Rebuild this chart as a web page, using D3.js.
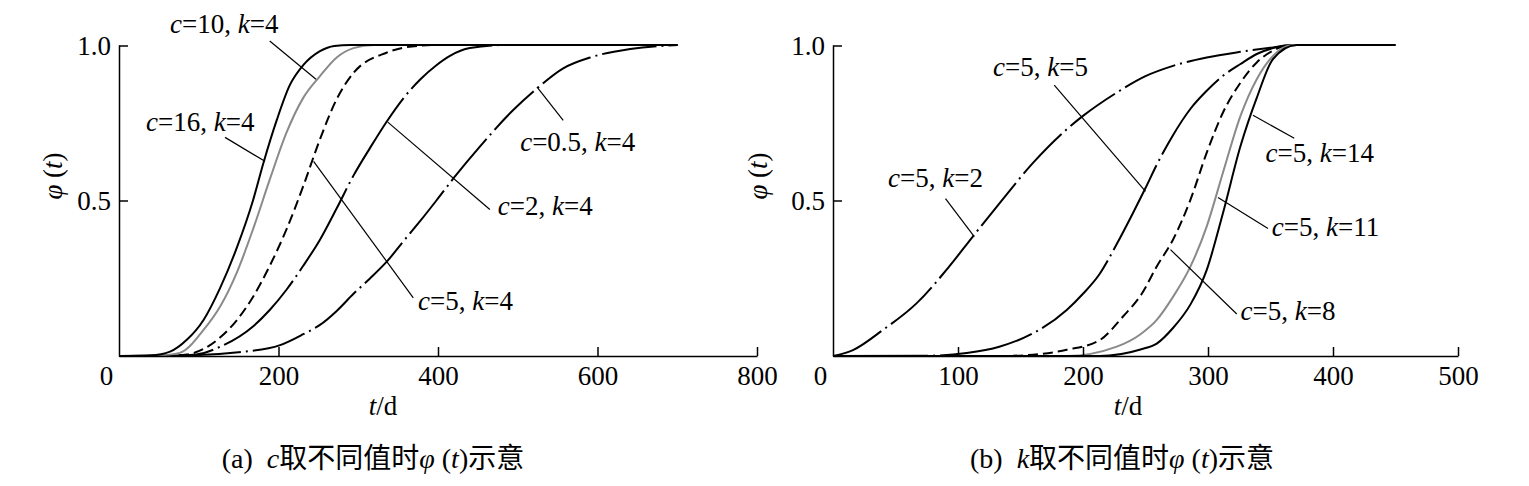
<!DOCTYPE html>
<html><head><meta charset="utf-8">
<script src="https://cdn.jsdelivr.net/npm/d3@7"></script>
<style>
body{margin:0;background:#fff;}
svg text, svg tspan{font-family:'Liberation Serif','Times New Roman','DejaVu Serif',serif;}
svg tspan.cjk{font-family:'Noto Sans CJK SC','Noto Sans CJK JP',sans-serif;}
</style></head><body>
<svg id="chart" width="1529" height="486"></svg>
<script>
// ---------- tick labels ----------
const leftXTicks = [0, 200, 400, 600, 800];
const rightXTicks = [0, 100, 200, 300, 400, 500];
const yTicks = [0.5, 1.0];

// ---------- panel (a): c varies, k = 4 ----------
const a_c16_t   = [0, 40, 64, 85, 106, 127, 148, 168, 181, 198, 214, 231, 252, 270, 290, 700];
const a_c16_phi = [0, 0.002, 0.014, 0.052, 0.116, 0.22, 0.35, 0.50, 0.62, 0.76, 0.87, 0.935, 0.98, 0.997, 1, 1];

const a_c10_t   = [0, 50, 76, 106, 127, 148, 168, 189, 210, 231, 252, 273, 294, 319, 700];
const a_c10_phi = [0, 0.002, 0.01, 0.084, 0.16, 0.27, 0.407, 0.567, 0.718, 0.83, 0.90, 0.96, 0.99, 1, 1];

const a_c5_t    = [0, 60, 85, 127, 148, 168, 189, 210, 231, 252, 273, 294, 336, 378, 400, 700];
const a_c5_phi  = [0, 0.001, 0.005, 0.06, 0.116, 0.19, 0.29, 0.407, 0.546, 0.697, 0.826, 0.91, 0.976, 0.998, 1, 1];

const a_c2_t    = [0, 60, 97, 127, 168, 189, 210, 231, 252, 273, 294, 315, 336, 357, 378, 398, 415, 440, 486, 700];
const a_c2_phi  = [0, 0.001, 0.005, 0.03, 0.095, 0.148, 0.213, 0.29, 0.374, 0.475, 0.58, 0.67, 0.755, 0.83, 0.89, 0.935, 0.965, 0.99, 1, 1];

const a_c05_t   = [0, 100, 150, 202, 231, 252, 273, 294, 315, 336, 357, 378, 398, 419, 453, 494, 524, 557, 591, 641, 701];
const a_c05_phi = [0, 0.003, 0.012, 0.035, 0.07, 0.10, 0.145, 0.20, 0.25, 0.304, 0.37, 0.435, 0.50, 0.57, 0.675, 0.79, 0.86, 0.925, 0.96, 0.987, 1];

// ---------- panel (b): k varies, c = 5 ----------
const b_k2_t    = [0, 16, 40, 67, 93, 112, 133, 160, 187, 200, 227, 250, 272, 299, 326, 352, 371, 450];
const b_k2_phi  = [0, 0.019, 0.084, 0.17, 0.288, 0.385, 0.49, 0.621, 0.729, 0.772, 0.847, 0.90, 0.933, 0.96, 0.978, 0.992, 1, 1];

const b_k5_t    = [0, 77, 107, 133, 160, 187, 200, 213, 227, 240, 250, 259, 272, 286, 299, 312, 326, 339, 352, 366, 450];
const b_k5_phi  = [0, 0.001, 0.01, 0.03, 0.073, 0.148, 0.20, 0.262, 0.36, 0.46, 0.54, 0.615, 0.71, 0.795, 0.853, 0.901, 0.939, 0.971, 0.99, 1, 1];

const b_k8_t    = [0, 133, 160, 187, 213, 232, 247, 259, 272, 286, 299, 312, 326, 339, 352, 366, 450];
const b_k8_phi  = [0, 0, 0.004, 0.02, 0.05, 0.127, 0.20, 0.288, 0.374, 0.503, 0.654, 0.783, 0.879, 0.944, 0.982, 1, 1];

const b_k11_t   = [0, 187, 227, 246, 259, 272, 286, 299, 312, 326, 339, 352, 368, 450];
const b_k11_phi = [0, 0, 0.03, 0.07, 0.116, 0.19, 0.288, 0.417, 0.59, 0.772, 0.89, 0.965, 1, 1];

const b_k14_t   = [0, 213, 246, 259, 272, 286, 299, 312, 326, 339, 352, 371, 450];
const b_k14_phi = [0, 0, 0.021, 0.04, 0.09, 0.166, 0.277, 0.46, 0.675, 0.83, 0.955, 1, 1];

// ---------- annotation labels ----------
const a_labels = [["10","4"],["16","4"],["5","4"],["2","4"],["0.5","4"]];
const b_labels = [["5","5"],["5","2"],["5","14"],["5","11"],["5","8"]];

// ---------- layout ----------
const FS = 27;
const svg = d3.select("#chart");
svg.append("rect").attr("width",1529).attr("height",486).attr("fill","#fff");

const y = d3.scaleLinear().domain([0, 1]).range([356, 45]);
const xa = d3.scaleLinear().domain([0, 800]).range([119, 757]);
const xb = d3.scaleLinear().domain([0, 500]).range([833, 1458]);

const styles = {
  black: {stroke:"#000", dash:null},
  gray:  {stroke:"#8a8a8a", dash:null},
  dashed:{stroke:"#000", dash:"10 5"},
  longDD:{stroke:"#000", dash:"95 5 2 5"},
  dd:    {stroke:"#000", dash:"55 5 2 5"}
};

const panelA = [
  {t:a_c05_t, p:a_c05_phi, s:"dd"},
  {t:a_c2_t,  p:a_c2_phi,  s:"longDD"},
  {t:a_c5_t,  p:a_c5_phi,  s:"dashed"},
  {t:a_c10_t, p:a_c10_phi, s:"gray"},
  {t:a_c16_t, p:a_c16_phi, s:"black"}
];
const panelB = [
  {t:b_k2_t,  p:b_k2_phi,  s:"dd"},
  {t:b_k5_t,  p:b_k5_phi,  s:"longDD"},
  {t:b_k8_t,  p:b_k8_phi,  s:"dashed"},
  {t:b_k11_t, p:b_k11_phi, s:"gray"},
  {t:b_k14_t, p:b_k14_phi, s:"black"}
];

// annotation placement (data units): text start, leader endpoints
const annA = [
  {tx:64,  ty:1.039, l:[189,1.013,247,0.890]},
  {tx:34,  ty:0.723, l:[133,0.703,183,0.626]},
  {tx:375, ty:0.148, l:[244,0.626,369,0.187]},
  {tx:475, ty:0.452, l:[337,0.752,465,0.471]},
  {tx:503, ty:0.658, l:[524,0.865,557,0.758]}
];
const annB = [
  {tx:128, ty:0.900, l:[177,0.871,250,0.529]},
  {tx:44,  ty:0.542, l:[90,0.506,113,0.384]},
  {tx:346, ty:0.623, l:[336,0.774,369,0.700]},
  {tx:351, ty:0.387, l:[308,0.510,348,0.410]},
  {tx:326, ty:0.116, l:[270,0.342,323,0.135]}
];

function drawPanel(x, xTicks, series, labels, anns, yLabX, tdX, capX, capLetter, capVar) {
  const g = svg.append("g");
  series.forEach(sr => {
    const pts = sr.t.map((t,i)=>[t, sr.p[i]]);
    const line = d3.line().x(d=>x(d[0])).y(d=>y(d[1])).curve(d3.curveMonotoneX);
    const st = styles[sr.s];
    g.append("path").attr("d", line(pts)).attr("fill","none")
      .attr("stroke", st.stroke).attr("stroke-width", 2)
      .attr("stroke-dasharray", st.dash).attr("stroke-linejoin","round");
  });
  const xAxis = d3.axisBottom(x).tickValues(xTicks).tickSize(-9).tickSizeOuter(0).tickPadding(10)
      .tickFormat(d3.format("d"));
  const gx = g.append("g").attr("transform", `translate(0,${y(0)})`).call(xAxis);
  gx.selectAll(".tick").filter(d=>d===0).select("line").remove();
  gx.selectAll(".tick").filter(d=>d===0).select("text").attr("x", -13);
  const yAxis = d3.axisLeft(y).tickValues(yTicks).tickSize(-9).tickSizeOuter(0).tickPadding(8)
      .tickFormat(d3.format(".1f"));
  const gy = g.append("g").attr("transform", `translate(${x(0)},0)`).call(yAxis);
  gy.selectAll(".tick").attr("transform", d => `translate(0,${d===1 ? 46 : 201})`);
  [gx, gy].forEach(a => {
    a.select(".domain").attr("stroke","#000").attr("stroke-width",1.5);
    a.selectAll(".tick line").attr("stroke","#000").attr("stroke-width",1.5);
    a.selectAll(".tick text").attr("fill","#000").attr("font-size",FS);
  });
  anns.forEach((a,i) => {
    g.append("line").attr("x1",x(a.l[0])).attr("y1",y(a.l[1]))
      .attr("x2",x(a.l[2])).attr("y2",y(a.l[3]))
      .attr("stroke","#000").attr("stroke-width",1.2);
    const tx = g.append("text").attr("x",x(a.tx)).attr("y",y(a.ty)).attr("font-size",FS);
    tx.append("tspan").attr("font-style","italic").text("c");
    tx.append("tspan").text("=" + labels[i][0] + ", ");
    tx.append("tspan").attr("font-style","italic").text("k");
    tx.append("tspan").text("=" + labels[i][1]);
  });
  const yl = g.append("text").attr("transform",`translate(${yLabX},176) rotate(-90)`)
    .attr("text-anchor","middle").attr("font-size",FS).style("white-space","pre");
  yl.append("tspan").attr("font-style","italic").text("φ");
  yl.append("tspan").text(" (");
  yl.append("tspan").attr("font-style","italic").text("t");
  yl.append("tspan").text(")");
  const xl = g.append("text").attr("x",tdX).attr("y",415).attr("text-anchor","middle").attr("font-size",FS);
  xl.append("tspan").attr("font-style","italic").text("t");
  xl.append("tspan").text("/d");
  const cap = g.append("text").attr("x",capX).attr("y",468).attr("text-anchor","middle")
    .attr("font-size",28).style("white-space","pre");
  cap.append("tspan").text("(" + capLetter + ")  ");
  cap.append("tspan").attr("font-style","italic").text(capVar);
  cap.append("tspan").attr("class","cjk").attr("font-size",28).text("取不同值时");
  cap.append("tspan").attr("font-style","italic").text("φ");
  cap.append("tspan").text(" (");
  cap.append("tspan").attr("font-style","italic").text("t");
  cap.append("tspan").text(")");
  cap.append("tspan").attr("class","cjk").attr("font-size",28).text("示意");
}

drawPanel(xa, leftXTicks, panelA, a_labels, annA, 62, 383, 373, "a", "c");
drawPanel(xb, rightXTicks, panelB, b_labels, annB, 767, 1128, 1122, "b", "k");
</script>
</body></html>
